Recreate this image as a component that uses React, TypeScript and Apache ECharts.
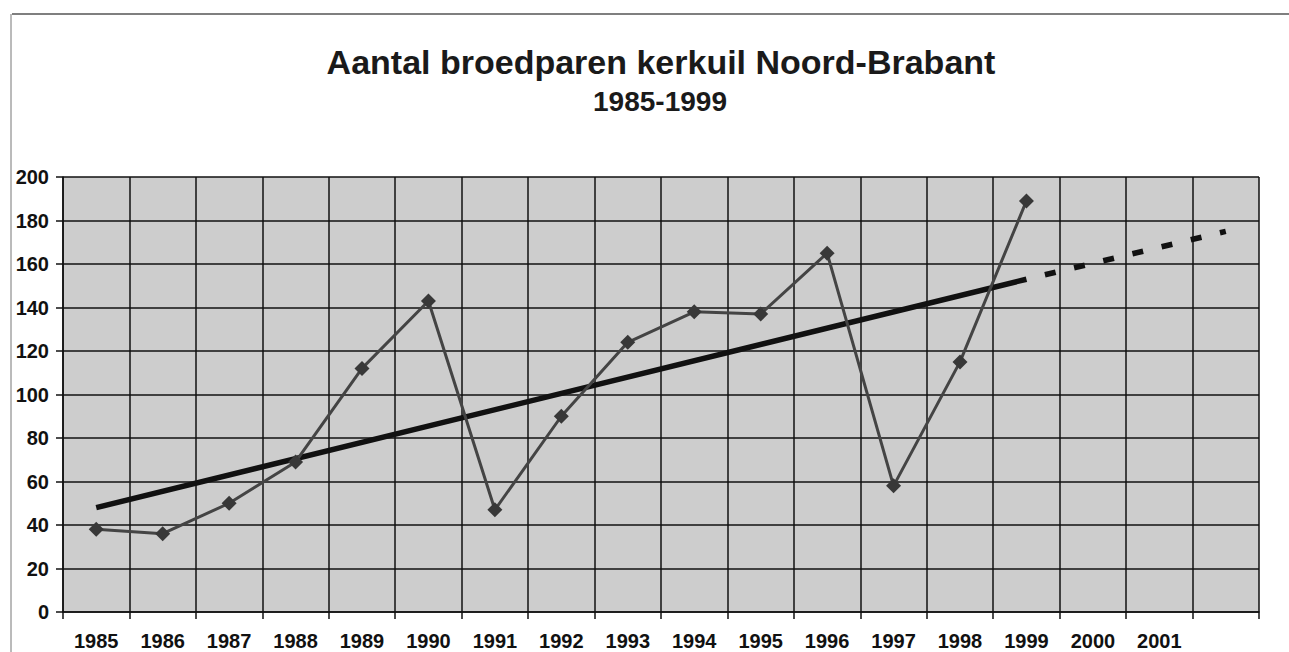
import React, { useEffect, useRef } from "react";
import * as echarts from "echarts";

const years = ["1985","1986","1987","1988","1989","1990","1991","1992","1993","1994","1995","1996","1997","1998","1999","2000","2001",""];
const pairs = [38, 36, 50, 69, 112, 143, 47, 90, 124, 138, 137, 165, 58, 115, 189];
const trendSolid = [48, null, null, null, null, null, null, null, null, null, null, null, null, null, 153];
const trendDashed = [null, null, null, null, null, null, null, null, null, null, null, null, null, null, 153, null, null, 175];
const yTicks = { min: 0, max: 200, interval: 20 };

const titleText = "Aantal broedparen kerkuil Noord-Brabant";
const subtitleText = "1985-1999";

export default function App() {
  const ref = useRef<HTMLDivElement>(null);
  useEffect(() => {
    document.body.style.margin = "0";
    const chart = echarts.init(ref.current!, null, { renderer: "svg" });
    const font = "'Liberation Sans', Arial, sans-serif";
    chart.setOption({
      animation: false,
      backgroundColor: "#ffffff",
      graphic: [
        { type: "line", shape: { x1: 12, y1: 14, x2: 1289, y2: 14 }, style: { stroke: "#555", lineWidth: 1.5 } },
        { type: "line", shape: { x1: 11, y1: 14, x2: 11, y2: 652 }, style: { stroke: "#777", lineWidth: 1 } },
        { type: "text", x: 661, y: 45, style: { text: titleText, font: `bold 34px ${font}`, fill: "#1a1a1a", textAlign: "center" } },
        { type: "text", x: 660, y: 87, style: { text: subtitleText, font: `bold 28px ${font}`, fill: "#1a1a1a", textAlign: "center" } },
      ],
      grid: { left: 63, right: 30, top: 177, bottom: 40, show: true, backgroundColor: "#cdcdcd", borderWidth: 0 },
      xAxis: {
        type: "category",
        data: years,
        boundaryGap: true,
        axisLine: { show: true, lineStyle: { color: "#111", width: 1.5 } },
        axisTick: { show: true, length: 7, lineStyle: { color: "#111", width: 1.5 } },
        splitLine: { show: true, interval: 0, lineStyle: { color: "#111", width: 1.5 } },
        axisLabel: { interval: 0, margin: 19, fontSize: 20, fontWeight: "bold", fontFamily: font, color: "#111" },
      },
      yAxis: {
        type: "value",
        min: yTicks.min,
        max: yTicks.max,
        interval: yTicks.interval,
        axisLine: { show: true, lineStyle: { color: "#111", width: 1.5 } },
        axisTick: { show: true, length: 7, lineStyle: { color: "#111", width: 1.5 } },
        splitLine: { show: true, lineStyle: { color: "#111", width: 1.5 } },
        axisLabel: { margin: 14, fontSize: 20, fontWeight: "bold", fontFamily: font, color: "#111" },
      },
      series: [
        {
          name: "trend",
          type: "line",
          data: trendSolid,
          connectNulls: true,
          showSymbol: false,
          symbol: "none",
          lineStyle: { color: "#111", width: 5.5 },
          z: 3,
        },
        {
          name: "trend extrapolated",
          type: "line",
          data: trendDashed,
          connectNulls: true,
          showSymbol: false,
          symbol: "none",
          lineStyle: { color: "#111", width: 5.5, type: [11, 19], dashOffset: 11 },
          z: 3,
        },
        {
          name: "broedparen",
          type: "line",
          data: pairs,
          symbol: "diamond",
          symbolSize: 15,
          itemStyle: { color: "#383838" },
          lineStyle: { color: "#444", width: 3 },
          z: 4,
        },
      ],
    });
    return () => chart.dispose();
  }, []);
  return <div ref={ref} style={{ width: 1289, height: 652 }} />;
}
